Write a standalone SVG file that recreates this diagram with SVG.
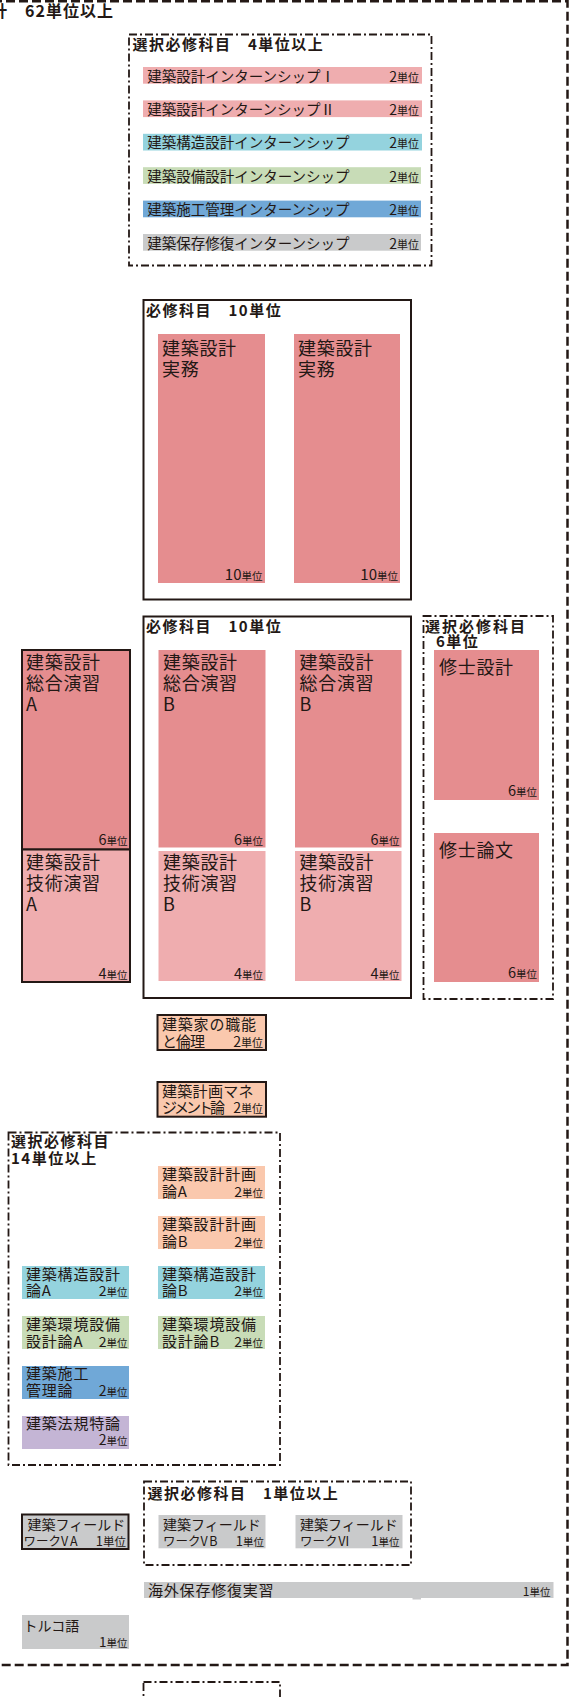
<svg xmlns="http://www.w3.org/2000/svg" width="572" height="1697" viewBox="0 0 572 1697">
<style>
text{font-family:"Noto Sans CJK JP","Noto Sans",sans-serif;fill:#231815}
.h{font-weight:bold;font-size:15px;letter-spacing:1.5px}
.big{font-size:18px;letter-spacing:0.7px}
.mid{font-size:15px;letter-spacing:0.8px}
.bar{font-size:14.5px}
.fw1{font-size:14px}
.fw2{font-size:12.5px}
.u{text-anchor:end;letter-spacing:0}
.n{font-size:14px}
.k{font-size:10.5px}
.k11{font-size:11px}
.dd{fill:none;stroke:#231815;stroke-width:1.8;stroke-dasharray:8 3 2 3}
.sol{fill:none;stroke:#231815;stroke-width:2}
.bd{stroke:#231815;stroke-width:2}
.pk{fill:#E58D8F}
.lp{fill:#EFADAF}
.cy{fill:#94D3DE}
.gr{fill:#C8DCB7}
.bl{fill:#70A8D7}
.gy{fill:#C9CACB}
.pe{fill:#FAC8AD}
.pu{fill:#C4B5D5}
</style>
<rect width="572" height="1697" fill="#ffffff"/>

<g id="outer">
<rect x="-20" y="1.3" width="587.5" height="1663.7" fill="none" stroke="#231815" stroke-width="2.5" stroke-dasharray="9 4"/>
<text class="h" x="-9" y="16.5" style="font-size:16px;letter-spacing:1px">計　62単位以上</text>
</g>

<g id="group-internship">
<rect class="dd" x="129" y="34.5" width="302.5" height="231"/>
<text class="h" x="132.5" y="50">選択必修科目　4単位以上</text>
</g>
<g id="intern1">
<rect class="lp" x="143" y="67" width="279" height="16.7"/>
<text class="bar" x="147.3" y="81.5">建築設計インターンシップⅠ</text>
<text class="u" x="419" y="81.5"><tspan class="n">2</tspan><tspan class="k11">単位</tspan></text>
</g>
<g id="intern2">
<rect class="lp" x="143" y="100.4" width="279" height="16.7"/>
<text class="bar" x="147.3" y="114.9">建築設計インターンシップⅡ</text>
<text class="u" x="419" y="114.9"><tspan class="n">2</tspan><tspan class="k11">単位</tspan></text>
</g>
<g id="intern3">
<rect class="cy" x="143" y="133.8" width="279" height="16.7"/>
<text class="bar" x="147.3" y="148.3">建築構造設計インターンシップ</text>
<text class="u" x="419" y="148.3"><tspan class="n">2</tspan><tspan class="k11">単位</tspan></text>
</g>
<g id="intern4">
<rect class="gr" x="143" y="167.2" width="278" height="16.7"/>
<text class="bar" x="147.3" y="181.7">建築設備設計インターンシップ</text>
<text class="u" x="419" y="181.7"><tspan class="n">2</tspan><tspan class="k11">単位</tspan></text>
</g>
<g id="intern5">
<rect class="bl" x="143" y="200.6" width="278" height="16.7"/>
<text class="bar" x="147.3" y="215.1">建築施工管理インターンシップ</text>
<text class="u" x="419" y="215.1"><tspan class="n">2</tspan><tspan class="k11">単位</tspan></text>
</g>
<g id="intern6">
<rect class="gy" x="143" y="234" width="278" height="16.7"/>
<text class="bar" x="147.3" y="248.5">建築保存修復インターンシップ</text>
<text class="u" x="419" y="248.5"><tspan class="n">2</tspan><tspan class="k11">単位</tspan></text>
</g>

<g id="group-required1">
<rect class="sol" x="143.5" y="300" width="267.5" height="299.5"/>
<text class="h" x="146" y="315.5">必修科目　10単位</text>
</g>
<g id="jitsumu1">
<rect class="pk" x="158" y="334" width="107" height="249"/>
<text class="big" x="162" y="354.5">建築設計<tspan x="162" y="376">実務</tspan><tspan class="u" x="262.5" y="580"><tspan style="font-size:15px">10</tspan><tspan class="k">単位</tspan></tspan></text>
</g>
<g id="jitsumu2">
<rect class="pk" x="294" y="334" width="106" height="249"/>
<text class="big" x="298" y="354.5">建築設計<tspan x="298" y="376">実務</tspan><tspan class="u" x="398" y="580"><tspan style="font-size:15px">10</tspan><tspan class="k">単位</tspan></tspan></text>
</g>

<g id="group-required2">
<rect class="sol" x="143.5" y="616.5" width="267.5" height="381.5"/>
<text class="h" x="146" y="631.5">必修科目　10単位</text>
</g>
<g id="sogoA">
<rect class="pk bd" x="22" y="650" width="108" height="199.5"/>
<text class="big" x="26" y="669">建築設計<tspan x="26" y="690">総合演習</tspan><tspan x="26" y="710.5">A</tspan><tspan class="u" x="127.5" y="845"><tspan style="font-size:14.5px">6</tspan><tspan class="k">単位</tspan></tspan></text>
</g>
<g id="gijutsuA">
<rect class="lp bd" x="22" y="849.5" width="108" height="132.5"/>
<text class="big" x="26" y="868.5">建築設計<tspan x="26" y="890">技術演習</tspan><tspan x="26" y="910.5">A</tspan><tspan class="u" x="127.5" y="979"><tspan style="font-size:14.5px">4</tspan><tspan class="k">単位</tspan></tspan></text>
</g>
<g id="sogoB1">
<rect class="pk" x="158.5" y="650" width="107" height="197.5"/>
<text class="big" x="163" y="669">建築設計<tspan x="163" y="690">総合演習</tspan><tspan x="163" y="710.5">B</tspan><tspan class="u" x="263" y="845"><tspan style="font-size:14.5px">6</tspan><tspan class="k">単位</tspan></tspan></text>
</g>
<g id="gijutsuB1">
<rect class="lp" x="158.5" y="851" width="107" height="130"/>
<text class="big" x="163" y="868.5">建築設計<tspan x="163" y="890">技術演習</tspan><tspan x="163" y="910.5">B</tspan><tspan class="u" x="263" y="979"><tspan style="font-size:14.5px">4</tspan><tspan class="k">単位</tspan></tspan></text>
</g>
<g id="sogoB2">
<rect class="pk" x="295" y="650" width="106.5" height="197.5"/>
<text class="big" x="299.5" y="669">建築設計<tspan x="299.5" y="690">総合演習</tspan><tspan x="299.5" y="710.5">B</tspan><tspan class="u" x="399.5" y="845"><tspan style="font-size:14.5px">6</tspan><tspan class="k">単位</tspan></tspan></text>
</g>
<g id="gijutsuB2">
<rect class="lp" x="295" y="851" width="106.5" height="130"/>
<text class="big" x="299.5" y="868.5">建築設計<tspan x="299.5" y="890">技術演習</tspan><tspan x="299.5" y="910.5">B</tspan><tspan class="u" x="399.5" y="979"><tspan style="font-size:14.5px">4</tspan><tspan class="k">単位</tspan></tspan></text>
</g>

<g id="group-master">
<rect class="dd" x="423.5" y="616" width="129.5" height="383"/>
<text class="h" x="425" y="632" style="letter-spacing:2px">選択必修科目<tspan x="436" y="647" style="letter-spacing:1.5px">6単位</tspan></text>
</g>
<g id="shushi-sekkei">
<rect class="pk" x="434" y="650" width="105" height="150"/>
<text class="big" x="439" y="674">修士設計<tspan class="u" x="537" y="795.5"><tspan style="font-size:14.5px">6</tspan><tspan class="k">単位</tspan></tspan></text>
</g>
<g id="shushi-ronbun">
<rect class="pk" x="434" y="833" width="105" height="149"/>
<text class="big" x="439" y="857">修士論文<tspan class="u" x="537" y="978"><tspan style="font-size:14.5px">6</tspan><tspan class="k">単位</tspan></tspan></text>
</g>

<g id="shokuno">
<rect class="pe bd" x="157.5" y="1015" width="108.5" height="35"/>
<text class="mid" x="162" y="1030">建築家の職能<tspan x="162" y="1046.5" style="letter-spacing:-1px">と倫理</tspan><tspan class="u" x="263" y="1046.5"><tspan class="n">2</tspan><tspan class="k11">単位</tspan></tspan></text>
</g>
<g id="management">
<rect class="pe bd" x="157.5" y="1082" width="108.5" height="34.7"/>
<text class="mid" x="162" y="1096.5" style="letter-spacing:0.3px">建築計画マネ<tspan x="162" y="1113" style="letter-spacing:-3px">ジメント論</tspan><tspan class="u" x="263" y="1113"><tspan class="n">2</tspan><tspan class="k11">単位</tspan></tspan></text>
</g>

<g id="group-elective14">
<rect class="dd" x="8.5" y="1132.5" width="271.5" height="332.5"/>
<text class="h" x="11" y="1147">選択必修科目<tspan x="11" y="1164">14単位以上</tspan></text>
</g>
<g id="keikakuA">
<rect class="pe" x="158" y="1166" width="107" height="33"/>
<text class="mid" x="162" y="1180">建築設計計画<tspan x="162" y="1196.5">論A</tspan><tspan class="u" x="263" y="1196.5"><tspan class="n">2</tspan><tspan class="k">単位</tspan></tspan></text>
</g>
<g id="keikakuB">
<rect class="pe" x="158" y="1216" width="107" height="33"/>
<text class="mid" x="162" y="1230">建築設計計画<tspan x="162" y="1246.5">論B</tspan><tspan class="u" x="263" y="1246.5"><tspan class="n">2</tspan><tspan class="k">単位</tspan></tspan></text>
</g>
<g id="kozoA">
<rect class="cy" x="22" y="1266" width="107" height="33"/>
<text class="mid" x="26" y="1279.5">建築構造設計<tspan x="26" y="1296">論A</tspan><tspan class="u" x="127.5" y="1296"><tspan class="n">2</tspan><tspan class="k">単位</tspan></tspan></text>
</g>
<g id="kozoB">
<rect class="cy" x="158" y="1266" width="107" height="33"/>
<text class="mid" x="162" y="1279.5">建築構造設計<tspan x="162" y="1296">論B</tspan><tspan class="u" x="263" y="1296"><tspan class="n">2</tspan><tspan class="k">単位</tspan></tspan></text>
</g>
<g id="kankyoA">
<rect class="gr" x="22" y="1316" width="107" height="33"/>
<text class="mid" x="26" y="1330">建築環境設備<tspan x="26" y="1346.5">設計論A</tspan><tspan class="u" x="127.5" y="1346.5"><tspan class="n">2</tspan><tspan class="k">単位</tspan></tspan></text>
</g>
<g id="kankyoB">
<rect class="gr" x="158" y="1316" width="107" height="33"/>
<text class="mid" x="162" y="1330">建築環境設備<tspan x="162" y="1346.5">設計論B</tspan><tspan class="u" x="263" y="1346.5"><tspan class="n">2</tspan><tspan class="k">単位</tspan></tspan></text>
</g>
<g id="seko">
<rect class="bl" x="22" y="1366" width="107" height="33"/>
<text class="mid" x="26" y="1378.5">建築施工<tspan x="26" y="1395.5">管理論</tspan><tspan class="u" x="127.5" y="1395.5"><tspan class="n">2</tspan><tspan class="k">単位</tspan></tspan></text>
</g>
<g id="hoki">
<rect class="pu" x="22" y="1416" width="107" height="33"/>
<text class="mid" x="26" y="1428.5">建築法規特論<tspan class="u" x="127.5" y="1445"><tspan class="n">2</tspan><tspan class="k">単位</tspan></tspan></text>
</g>

<g id="group-field">
<rect class="dd" x="144" y="1481.5" width="267" height="83.5"/>
<text class="h" x="147.5" y="1498.5">選択必修科目　1単位以上</text>
</g>
<g id="fieldVA">
<rect class="gy bd" x="22" y="1514.5" width="106.5" height="34.5"/>
<text class="fw1" x="27.5" y="1529.5">建築フィールド<tspan class="fw2" x="23.5" y="1545.5">ワーク<tspan style="letter-spacing:2px">VA</tspan></tspan><tspan class="u" x="126" y="1545.5"><tspan style="font-size:13px">1</tspan><tspan style="font-size:11.5px">単位</tspan></tspan></text>
</g>
<g id="fieldVB">
<rect class="gy" x="158.5" y="1515" width="107" height="33.3"/>
<text class="fw1" x="163" y="1529.5">建築フィールド<tspan class="fw2" x="163" y="1545.5">ワーク<tspan style="letter-spacing:1.5px">VB</tspan></tspan><tspan class="u" x="264" y="1545.5"><tspan style="font-size:13px">1</tspan><tspan class="k">単位</tspan></tspan></text>
</g>
<g id="fieldVI">
<rect class="gy" x="295.5" y="1515" width="107" height="33.3"/>
<text class="fw1" x="300" y="1529.5">建築フィールド<tspan class="fw2" x="300" y="1545.5">ワークⅥ</tspan><tspan class="u" x="399.5" y="1545.5"><tspan style="font-size:13px">1</tspan><tspan class="k">単位</tspan></tspan></text>
</g>

<g id="kaigai">
<rect class="gy" x="144" y="1582" width="409.5" height="16"/>
<rect class="gy" x="412.5" y="1597" width="8.5" height="2.5"/>
<text class="mid" x="148" y="1595.5">海外保存修復実習</text>
<text class="u" x="550.5" y="1595.5"><tspan style="font-size:12px">1</tspan><tspan class="k">単位</tspan></text>
</g>

<g id="turkish">
<rect class="gy" x="22" y="1615" width="107" height="34"/>
<text class="fw1" x="23.5" y="1631">トルコ語<tspan class="u" x="127.5" y="1646.5"><tspan style="font-size:13.5px">1</tspan><tspan class="k">単位</tspan></tspan></text>
</g>

<g id="group-bottom">
<rect class="dd" x="143.5" y="1682" width="136.5" height="60"/>
</g>

<g id="connectors"></g>
</svg>
